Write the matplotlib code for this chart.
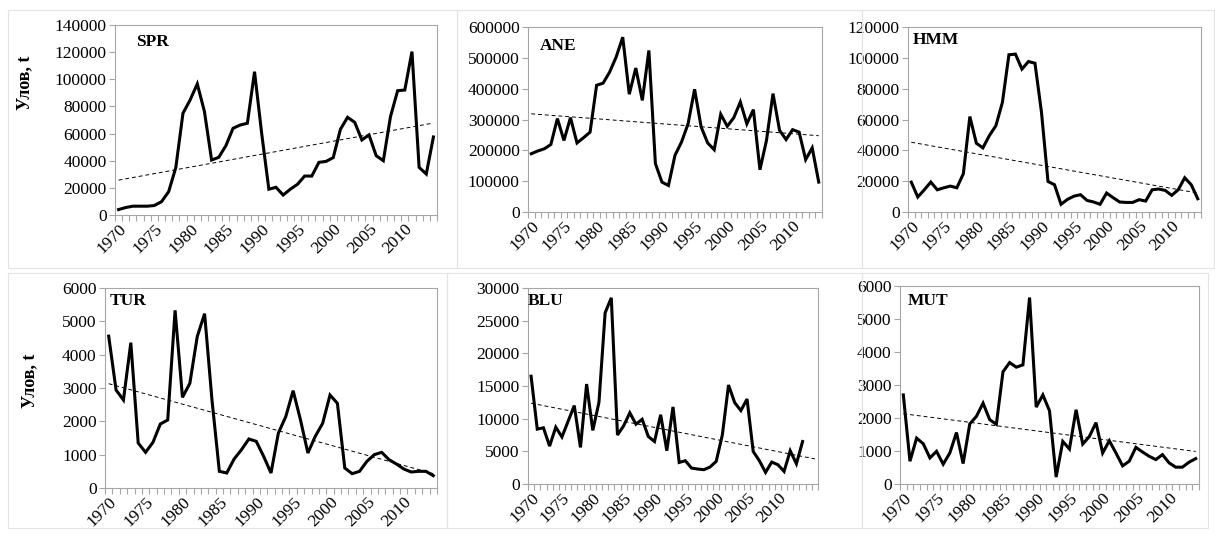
import numpy as np
import matplotlib
matplotlib.use("Agg")
import matplotlib.pyplot as plt
from matplotlib.patches import Rectangle

plt.rcParams['font.family'] = ['Liberation Serif', 'DejaVu Serif']
plt.rcParams['font.size'] = 12.5

# Годы и уловы по видам
years = np.arange(1970, 2015)

spr = [4000, 5500, 6500, 6500, 6500, 7000, 9800, 17200, 35000, 75000,
       84800, 96600, 76200, 40500, 42500, 51100, 63900, 66300, 67600, 105600,
       60000, 19000, 20400, 14700, 19000, 22600, 28700, 28700, 38800, 39500,
       42300, 63100, 72000, 68300, 55300, 59000, 43700, 40000, 72500, 91600,
       92100, 120400, 35100, 30200, 57500]

ane = [189000, 198000, 205000, 219000, 303000, 232000, 306000, 224000, 241000, 259000,
       411000, 418000, 454000, 503000, 567000, 382000, 467000, 362000, 524000, 157000,
       97000, 86000, 184000, 227000, 286000, 398000, 276000, 224000, 202000, 317000,
       278000, 306000, 357000, 286000, 332000, 137000, 232000, 384000, 265000, 235000,
       267000, 259000, 170000, 208000, 97000]

hmm = [19400, 9700, 14400, 19400, 14400, 15700, 16800, 15700, 24800, 61900,
       44600, 41600, 49600, 56000, 71100, 102000, 102400, 92700, 97600, 96500,
       64700, 19800, 17700, 5000, 8200, 10300, 11200, 7500, 6500, 5000,
       12300, 9300, 6500, 6200, 6200, 8000, 7100, 14400, 14900, 14000,
       10800, 14400, 22200, 17700, 8600]

tur = [4556, 2940, 2640, 4360, 1350, 1070, 1370, 1920, 2040, 5330,
       2720, 3140, 4540, 5230, 2640, 500, 450, 870, 1150, 1470,
       1400, 950, 450, 1650, 2140, 2920, 2040, 1050, 1550, 1940,
       2790, 2540, 600, 430, 500, 800, 1000, 1070, 850, 720,
       570, 480, 500, 500, 370]

blu = [16500, 8400, 8600, 5800, 8700, 7200, 9600, 12000, 5600, 15300,
       8200, 12500, 26200, 28500, 7500, 8900, 10900, 9150, 9900, 7270,
       6500, 10600, 5100, 11800, 3300, 3560, 2440, 2290, 2190, 2600,
       3460, 7520, 15150, 12450, 11240, 13000, 4980, 3560, 1780, 3360,
       2950, 1930, 5080, 3100, 6500]

mut = [2700, 690, 1390, 1220, 790, 990, 600, 940, 1560, 620,
       1820, 2050, 2450, 1950, 1810, 3400, 3680, 3540, 3610, 5650,
       2330, 2700, 2220, 210, 1290, 1060, 2250, 1210, 1440, 1860,
       940, 1310, 940, 550, 690, 1110, 970, 840, 740, 890,
       640, 510, 510, 660, 770]

names = ['SPR', 'ANE', 'HMM', 'TUR', 'BLU', 'MUT']
series = [spr, ane, hmm, tur, blu, mut]
ymax = [140000, 600000, 120000, 6000, 30000, 6000]
ystep = [20000, 100000, 20000, 1000, 5000, 1000]
last_cat = [2014, 2014, 2014, 2014, 2016, 2014]

W, H = 1215, 539
fig = plt.figure(figsize=(W / 100, H / 100), dpi=100)


def box(l, t, r, b):
    return [l / W, 1 - b / H, (r - l) / W, (b - t) / H]


# области построения (в пикселях: слева, сверху, справа, снизу)
boxes = [(115, 25, 437, 215), (528, 27, 822, 212), (908, 27, 1201, 212),
         (105, 288, 437, 488), (528, 288, 818, 484), (900, 286, 1199, 484)]
label_pos = [(0.065, 0.91), (0.04, 0.90), (0.015, 0.93),
             (0.015, 0.935), (0.0, 0.935), (0.025, 0.925)]

# рамки диаграмм
frame_col = '#e3e3e3'
for (l, t, r, b) in [(8, 10, 457, 268), (457, 10, 862, 268), (862, 10, 1214, 268),
                     (8, 273, 447, 528), (447, 273, 862, 528), (862, 273, 1208, 528)]:
    fig.patches.append(Rectangle((l / W, 1 - b / H), (r - l) / W, (b - t) / H,
                                 transform=fig.transFigure, fill=False,
                                 edgecolor=frame_col, linewidth=0.8))

grey = '#a6a6a6'
for i, (name, vals) in enumerate(zip(names, series)):
    ax = fig.add_axes(box(*boxes[i]))
    vals = np.array(vals, dtype=float)
    ax.plot(years, vals, color='black', linewidth=2.2, solid_joinstyle='miter')

    # линейный тренд
    k, c = np.polyfit(years, vals, 1)
    xt = np.array([1970, last_cat[i]])
    ax.plot(xt, k * xt + c, color='black', linewidth=0.7, linestyle=(0, (4, 3)))

    ax.set_xlim(1969.5, last_cat[i] + 0.5)
    ax.set_ylim(0, ymax[i])
    ax.set_yticks(np.arange(0, ymax[i] + 1, ystep[i]))
    ax.set_yticklabels([str(int(v)) for v in np.arange(0, ymax[i] + 1, ystep[i])])

    lab_years = np.arange(1970, 2011, 5)
    ax.set_xticks(lab_years)
    ax.set_xticklabels([str(y) for y in lab_years], rotation=45, ha='right',
                       va='top', rotation_mode='anchor')
    ax.tick_params(axis='x', length=0, pad=4)
    ax.set_xticks(np.arange(1969.5, last_cat[i] + 1, 1), minor=True)
    ax.tick_params(axis='x', which='minor', length=4, color=grey, width=0.8)
    ax.tick_params(axis='y', length=4, color=grey, width=0.8, pad=2)

    for s in ax.spines.values():
        s.set_color(grey)
        s.set_linewidth(0.8)

    ax.text(label_pos[i][0], label_pos[i][1], name, transform=ax.transAxes,
            fontsize=12.5, fontweight='bold', ha='left', va='center')

fig.text(25 / W, 1 - 83 / H, 'Улов, t', rotation=90, ha='center', va='center',
         fontsize=13, fontweight='bold')
fig.text(30 / W, 1 - 381 / H, 'Улов, t', rotation=90, ha='center', va='center',
         fontsize=13, fontweight='bold')

fig.savefig('out.png', dpi=100)
